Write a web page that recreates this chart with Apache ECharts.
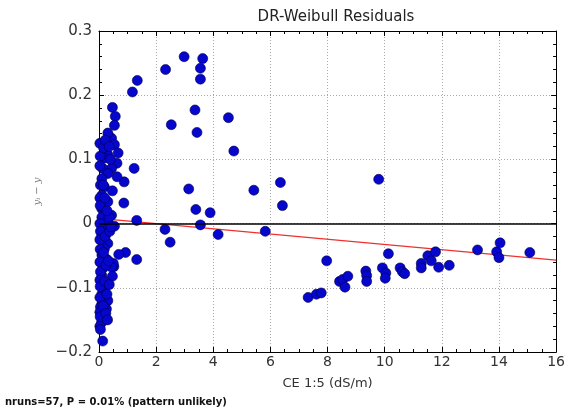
<!DOCTYPE html>
<html>
<head>
<meta charset="utf-8">
<script src="https://cdn.jsdelivr.net/npm/echarts@6/dist/echarts.min.js"></script>
<style>
html,body{margin:0;padding:0;background:#fff;}
#chart{width:568px;height:413px;}
</style>
</head>
<body>
<div id="chart"></div>
<script>
// Residual points: CE 1:5 (dS/m) and residual
const ceValues = [
  1.17,1.34,2.33,2.98,3.63,3.55,3.55,3.36,2.53,3.43,4.53,4.72,1.23,0.88,0.87,3.14,3.39,3.89,5.42,6.35,6.42,9.79,
  1.32,3.55,2.31,2.49,4.17,5.82,1.32,0.93,0.69,0.52,0.50,
  7.97,7.32,7.61,7.78,8.42,8.53,8.71,8.61,9.34,9.37,9.37,9.92,10.04,10.02,10.13,10.54,10.62,10.70,
  11.28,11.28,11.51,11.63,11.78,11.89,12.26,13.25,13.92,14.04,14.00,15.08,
  0.47,0.57,0.54,0.44,0.31,0.26,0.54,0.67,0.63,0.31,0.19,0.44,0.13,0.31,0.63,0.10,0.19,0.47,0.10,0.31,
  0.10,0.25,0.44,0.10,0.31,0.54,0.19,0.10,0.31,0.19,0.10,0.25,0.44,0.13,0.10,0.47,0.19,0.19,0.10,0.31,
  0.10,0.26,0.13,0.19,0.09,0.13,
  0.03,0.04,0.03,0.05,0.03,0.04,0.03,0.05,0.03,0.04,0.03,0.05,0.03,0.04,0.03,0.05,0.03,0.04,0.03,0.05,
  0.16,0.22,0.36,0.40,0.15,0.20,0.35,0.28,0.22,0.38,0.16,0.24,0.33,0.42,0.20,0.28,0.36,0.15,0.24,0.30
];
const residuals = [
  0.205,0.223,0.240,0.260,0.257,0.242,0.225,0.177,0.154,0.142,0.165,0.113,0.086,0.065,0.032,0.054,0.022,0.017,0.052,0.064,0.028,0.069,
  0.005,-0.002,-0.009,-0.029,-0.017,-0.012,-0.056,-0.045,-0.048,-0.067,-0.062,
  -0.058,-0.115,-0.110,-0.108,-0.090,-0.087,-0.082,-0.099,-0.074,-0.081,-0.090,-0.069,-0.077,-0.085,-0.047,-0.069,-0.075,-0.078,
  -0.062,-0.069,-0.050,-0.058,-0.044,-0.068,-0.065,-0.041,-0.044,-0.030,-0.053,-0.045,
  0.181,0.167,0.153,0.133,0.141,0.123,0.123,0.110,0.094,0.107,0.102,0.086,0.086,0.078,0.073,0.070,0.057,0.051,0.044,0.034,
  0.023,0.017,0.013,0.010,0.003,-0.004,-0.008,-0.018,-0.031,-0.039,-0.049,-0.055,-0.068,-0.070,-0.081,-0.082,-0.094,-0.102,-0.110,-0.120,
  -0.125,-0.133,-0.141,-0.149,-0.154,-0.183,
  0.125,0.105,0.090,0.060,0.040,0.028,0.000,-0.012,-0.025,-0.040,-0.060,-0.075,-0.088,-0.098,-0.115,-0.130,-0.138,-0.145,-0.160,-0.165,
  0.118,0.130,0.120,0.100,0.060,0.040,0.010,0.020,-0.020,-0.012,-0.045,-0.065,-0.058,-0.005,-0.090,-0.110,-0.095,-0.128,-0.140,-0.150
];
// Fitted trend of the residuals (end points)
const trendX = [0, 16];
const trendY = [0.008, -0.057];
const xTicks = [0, 2, 4, 6, 8, 10, 12, 14, 16];
const yTicks = [-0.2, -0.1, 0, 0.1, 0.2, 0.3];

const chart = echarts.init(document.getElementById('chart'));
const pts = ceValues.map((x, i) => [x, residuals[i]]);
const fmtY = v => {
  const r = Math.round(v * 10) / 10;
  if (r === 0) return '0';
  return (r < 0 ? '\u22120' : '0') + String(Math.abs(r)).replace(/^0/, '');
};
const baseFont = 'DejaVu Sans';
const axisCommon = {
  axisLine: {show: true, onZero: false, lineStyle: {color: '#000', width: 1}},
  axisTick: {show: true, inside: true, length: 5, lineStyle: {color: '#000'}},
  minorTick: {show: true, splitNumber: 4, length: 3, lineStyle: {color: '#000'}},
};
chart.setOption({
  animation: false,
  backgroundColor: '#fff',
  title: {
    text: 'DR-Weibull Residuals', left: 331, top: 5, textAlign: 'center',
    textStyle: {fontFamily: baseFont, fontSize: 15, fontWeight: 'normal', color: '#222'}
  },
  graphic: [{
    type: 'text', left: 5, top: 397,
    style: {text: 'nruns=57, P = 0.01% (pattern unlikely)', font: 'bold 10px "DejaVu Sans"', fill: '#111'}
  }],
  grid: {left: 99, right: 8, top: 31, bottom: 61},
  xAxis: [{
    type: 'value', min: 0, max: 16, interval: 2, position: 'bottom',
    name: 'CE 1:5 (dS/m)', nameLocation: 'middle', nameGap: 25,
    nameTextStyle: {fontFamily: baseFont, fontSize: 13, color: '#333'},
    axisLabel: {fontFamily: baseFont, fontSize: 14, color: '#333', margin: 3},
    ...axisCommon,
    splitLine: {show: true, lineStyle: {color: '#aaa', type: [1, 2], width: 1}}
  }, {
    type: 'value', min: 0, max: 16, interval: 2, position: 'top',
    axisLabel: {show: false}, ...axisCommon, splitLine: {show: false}
  }],
  yAxis: [{
    type: 'value', min: -0.2, max: 0.3, interval: 0.1, position: 'left',
    name: 'y\u1D62 \u2212 y', nameLocation: 'middle', nameGap: 57, nameRotate: 90,
    nameTextStyle: {fontFamily: 'DejaVu Serif', fontStyle: 'italic', fontSize: 10, color: '#777'},
    axisLabel: {fontFamily: baseFont, fontSize: 15, color: '#333', margin: 7, formatter: fmtY},
    ...axisCommon,
    minorTick: {show: true, splitNumber: 5, length: 3, lineStyle: {color: '#000'}},
    splitLine: {show: true, lineStyle: {color: '#aaa', type: [1, 2], width: 1}}
  }, {
    type: 'value', min: -0.2, max: 0.3, interval: 0.1, position: 'right',
    axisLabel: {show: false}, ...axisCommon,
    minorTick: {show: true, splitNumber: 5, length: 3, lineStyle: {color: '#000'}},
    splitLine: {show: false}
  }],
  series: [{
    type: 'line', data: [], xAxisIndex: 0, yAxisIndex: 0, silent: true,
    markLine: {
      silent: true, symbol: 'none', label: {show: false},
      lineStyle: {color: '#000', width: 1.5, type: 'solid'},
      data: [{yAxis: 0}]
    }
  }, {
    type: 'line', data: trendX.map((x, i) => [x, trendY[i]]),
    showSymbol: false, symbol: 'none', lineStyle: {color: '#f03030', width: 1.2}, z: 3
  }, {
    type: 'scatter', data: pts, symbolSize: 10,
    itemStyle: {color: '#0606cc', borderColor: '#00004a', borderWidth: 0.6, opacity: 1},
    z: 4
  }]
});
</script>
</body>
</html>
